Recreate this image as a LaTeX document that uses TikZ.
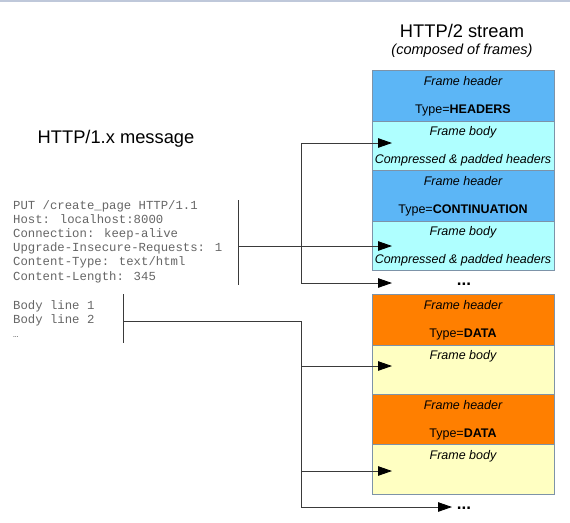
\documentclass[tikz,border=0pt]{standalone}
\usepackage{fontspec}
\setmainfont{Liberation Sans}
\newfontfamily\monofont{Liberation Mono}
\usetikzlibrary{arrows.meta,calc}
\definecolor{hblue}{HTML}{5CB6F6}
\definecolor{bcyan}{HTML}{AFFFFF}
\definecolor{horange}{HTML}{FF7F00}
\definecolor{byellow}{HTML}{FFFFC2}
\definecolor{edgecol}{HTML}{7D93A8}
\definecolor{linecol}{HTML}{3A3A3A}
\definecolor{monocol}{HTML}{666666}
\definecolor{topline}{HTML}{BFC8DA}
\begin{document}
\begin{tikzpicture}[x=1pt,y=-1pt,
  part/.style={draw=edgecol, line width=0.8pt, minimum width=182pt, inner sep=0pt, anchor=north west},
  lbl/.style={anchor=base, inner sep=0pt, font=\fontsize{12.5}{15}\selectfont},
  ilbl/.style={lbl, font=\fontsize{12.5}{15}\selectfont\itshape},
  title/.style={anchor=base, inner sep=0pt, font=\fontsize{18.3}{22}\selectfont},
  mono/.style={anchor=base west, inner sep=0pt, text=monocol, font=\monofont\fontsize{12.3}{14}\selectfont},
  brk/.style={draw=linecol, line width=0.9pt},
  arr/.style={draw=linecol, line width=0.9pt, -{Triangle[length=14pt,width=9.5pt,color=black]}},
  dots/.style={anchor=base, inner sep=0pt, font=\fontsize{17}{20}\selectfont\bfseries}
]
\useasboundingbox (0,0) rectangle (570,522);
\fill[white] (0,0) rectangle (570,522);
\fill[topline] (0,0) rectangle (570,1.5);

% titles
\node[title] (t2) at (462,37.5) {HTTP/2 stream};
\node[anchor=base, inner sep=0pt, font=\fontsize{14.5}{17}\selectfont\itshape] (t2s) at (462,54) {(composed of frames)};
\node[title] (t1) at (116,143) {HTTP/1.x message};

% frames
\node[part, fill=hblue,   minimum height=51pt] (hd1) at (372,70) {};
\node[part, fill=bcyan,   minimum height=49pt] (bd1) at (372,121) {};
\node[part, fill=hblue,   minimum height=51pt] (hd2) at (372,170) {};
\node[part, fill=bcyan,   minimum height=49pt] (bd2) at (372,221) {};
\node[part, fill=horange, minimum height=51pt] (hd3) at (372,294) {};
\node[part, fill=byellow, minimum height=49pt] (bd3) at (372,345) {};
\node[part, fill=horange, minimum height=50pt] (hd4) at (372,394) {};
\node[part, fill=byellow, minimum height=50pt] (bd4) at (372,444) {};

\node[ilbl] (hd1a) at (463,85.5) {Frame header};
\node[lbl]  (hd1b) at (463,113) {Type=\textbf{HEADERS}};
\node[ilbl] (bd1a) at (463,135) {Frame body};
\node[ilbl] (bd1b) at (463,163) {Compressed \& padded headers};
\node[ilbl] (hd2a) at (463,185.5) {Frame header};
\node[lbl]  (hd2b) at (463,213) {Type=\textbf{CONTINUATION}};
\node[ilbl] (bd2a) at (463,235) {Frame body};
\node[ilbl] (bd2b) at (463,263) {Compressed \& padded headers};
\node[dots] (dt1) at (464,285.5) {...};
\node[ilbl] (hd3a) at (463,309.5) {Frame header};
\node[lbl]  (hd3b) at (463,337) {Type=\textbf{DATA}};
\node[ilbl] (bd3a) at (463,359) {Frame body};
\node[ilbl] (hd4a) at (463,409.5) {Frame header};
\node[lbl]  (hd4b) at (463,437) {Type=\textbf{DATA}};
\node[ilbl] (bd4a) at (463,459) {Frame body};
\node[dots] (dt2) at (464,509.5) {...};

% HTTP/1.x message text
\node[mono] (m1) at (13,209.5) {PUT /create\_page HTTP/1.1};
\node[mono] (m2) at (13,223.6) {Host: localhost:8000};
\node[mono] (m3) at (13,237.7) {Connection: keep-alive};
\node[mono] (m4) at (13,251.8) {Upgrade-Insecure-Requests: 1};
\node[mono] (m5) at (13,265.9) {Content-Type: text/html};
\node[mono] (m6) at (13,280) {Content-Length: 345};
\node[mono] (n1) at (13,309.5) {Body line 1};
\node[mono] (n2) at (13,323.5) {Body line 2};
\node[mono, font=\monofont\fontsize{9}{10}\selectfont] (n3) at (13,337.5) {…};

% connector points
\coordinate (hb1) at (238,200);
\coordinate (hb2) at (238,285);
\coordinate (hbm) at (238,246);
\coordinate (bb1) at (123,294);
\coordinate (bb2) at (123,343);
\coordinate (bbm) at (123,321);
\coordinate (j1) at (301,143);
\coordinate (j2) at (301,283);
\coordinate (k1) at (301,321);
\coordinate (k2) at (301,366);
\coordinate (k3) at (301,471);
\coordinate (k4) at (301,507);
\coordinate (a1) at (392,143);
\coordinate (a2) at (392,246);
\coordinate (a3) at (392,283);
\coordinate (a4) at (392,366);
\coordinate (a5) at (392,471);
\coordinate (a6) at (452,507);

% headers bracket
\draw[brk] (hb1) -- (hb2);
\draw[arr] (hbm) -- (a2);
\draw[arr] (j1) -- (a1);
\draw[arr] (j1) -- (j2) -- (a3);

% body bracket
\draw[brk] (bb1) -- (bb2);
\draw[brk] (bbm) -- (k1) -- (k4);
\draw[arr] (k2) -- (a4);
\draw[arr] (k3) -- (a5);
\draw[arr] (k4) -- (a6);
\end{tikzpicture}
\end{document}
